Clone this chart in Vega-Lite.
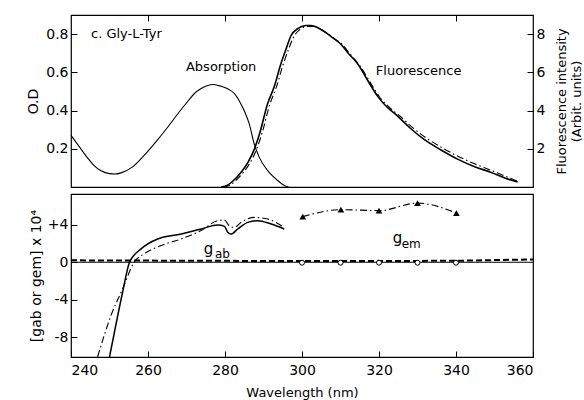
{
  "$schema": "https://vega.github.io/schema/vega-lite/v6.json",
  "padding": {"left": 26, "top": 13, "right": 0, "bottom": 3},
  "background": "white",
  "config": {
    "font": "DejaVu Sans",
    "view": {"stroke": "black", "strokeWidth": 1.2},
    "axis": {"labelFont": "DejaVu Sans", "titleFont": "DejaVu Sans", "labelFontSize": 14, "titleFontSize": 14, "titleFontWeight": "normal", "labelColor": "black", "titleColor": "black", "tickColor": "black", "domain": false, "grid": false, "tickSize": -6, "labelPadding": 9}
  },
  "spacing": 2,
  "vconcat": [
    {
      "width": 462,
      "height": 172,
      "layer": [
        {
          "data": {"values": [
            {"nm": 240, "od": 0.27}, {"nm": 242, "od": 0.215}, {"nm": 244.4, "od": 0.15}, {"nm": 246, "od": 0.112},
            {"nm": 247.8, "od": 0.085}, {"nm": 250, "od": 0.07}, {"nm": 251.5, "od": 0.068}, {"nm": 253, "od": 0.074},
            {"nm": 256, "od": 0.105}, {"nm": 259, "od": 0.165}, {"nm": 262, "od": 0.235}, {"nm": 265, "od": 0.31},
            {"nm": 268, "od": 0.39}, {"nm": 270.4, "od": 0.45}, {"nm": 272, "od": 0.488}, {"nm": 273.8, "od": 0.515},
            {"nm": 275.5, "od": 0.531}, {"nm": 277, "od": 0.536}, {"nm": 279, "od": 0.527}, {"nm": 281, "od": 0.51},
            {"nm": 282.4, "od": 0.49}, {"nm": 284, "od": 0.44}, {"nm": 285.2, "od": 0.39}, {"nm": 286.3, "od": 0.33},
            {"nm": 287.6, "od": 0.225}, {"nm": 288.9, "od": 0.155}, {"nm": 291.1, "od": 0.086}, {"nm": 293.7, "od": 0.034},
            {"nm": 295.4, "od": 0.008}, {"nm": 296.5, "od": 0.0}
          ]},
          "layer": [
            {
              "mark": {"type": "line", "interpolate": "monotone", "color": "black", "strokeWidth": 1.1},
              "encoding": {
                "x": {"field": "nm", "type": "quantitative", "scale": {"domain": [240, 360]},
                  "axis": {"orient": "top", "values": [260, 280, 300, 320, 340], "labels": false, "title": null}},
                "y": {"field": "od", "type": "quantitative", "scale": {"domain": [0, 0.895]},
                  "axis": {"orient": "left", "values": [0.2, 0.4, 0.6, 0.8], "format": ".1f", "title": "O.D", "titlePadding": 5}}
              }
            },
            {
              "data": {"values": [{"nm": 245.2, "od": 0.8, "label": "c. Gly-L-Tyr"}]},
              "mark": {"type": "text", "fontSize": 13, "color": "black", "baseline": "middle", "align": "left"},
              "encoding": {
                "x": {"field": "nm", "type": "quantitative"},
                "y": {"field": "od", "type": "quantitative"},
                "text": {"field": "label"}
              }
            },
            {
              "data": {"values": [{"nm": 279, "od": 0.626, "label": "Absorption"}]},
              "mark": {"type": "text", "fontSize": 13, "color": "black", "baseline": "middle", "align": "center"},
              "encoding": {
                "x": {"field": "nm", "type": "quantitative"},
                "y": {"field": "od", "type": "quantitative"},
                "text": {"field": "label"}
              }
            }
          ]
        },
        {
          "layer": [
            {
              "data": {"values": [
                {"nm": 279, "f": 0}, {"nm": 280.7, "f": 0.1}, {"nm": 282, "f": 0.3}, {"nm": 284.2, "f": 0.77},
                {"nm": 286, "f": 1.3}, {"nm": 287.6, "f": 1.97}, {"nm": 289, "f": 2.8}, {"nm": 291.1, "f": 4.38},
                {"nm": 292.8, "f": 5.26}, {"nm": 294.5, "f": 6.44}, {"nm": 296, "f": 7.3}, {"nm": 297.1, "f": 7.9},
                {"nm": 299, "f": 8.3}, {"nm": 301, "f": 8.45}, {"nm": 302.3, "f": 8.45}, {"nm": 304, "f": 8.35},
                {"nm": 306, "f": 8.1}, {"nm": 308, "f": 7.8}, {"nm": 310.1, "f": 7.47}, {"nm": 312, "f": 7.0},
                {"nm": 314.5, "f": 6.44}, {"nm": 317, "f": 5.6}, {"nm": 319.7, "f": 4.73}, {"nm": 322, "f": 4.2},
                {"nm": 324.9, "f": 3.7}, {"nm": 328, "f": 3.1}, {"nm": 331.7, "f": 2.49}, {"nm": 336, "f": 1.95},
                {"nm": 340.4, "f": 1.46}, {"nm": 345, "f": 1.05}, {"nm": 349, "f": 0.77}, {"nm": 353, "f": 0.45},
                {"nm": 356, "f": 0.26}
              ]},
              "mark": {"type": "line", "interpolate": "monotone", "color": "black", "strokeWidth": 1.6},
              "encoding": {
                "x": {"field": "nm", "type": "quantitative"},
                "y": {"field": "f", "type": "quantitative", "scale": {"domain": [0, 8.8]},
                  "axis": {"orient": "right", "values": [2, 4, 6, 8], "format": "d", "title": ["Fluorescence intensity", "(Arbit. units)"], "titleAngle": 270, "titlePadding": 9, "titleFontSize": 13}}
              }
            },
            {
              "data": {"values": [
                {"nm": 279.5, "f": 0}, {"nm": 281.3, "f": 0.1}, {"nm": 282.6, "f": 0.3}, {"nm": 284.8, "f": 0.77},
                {"nm": 286.6, "f": 1.3}, {"nm": 288.2, "f": 1.97}, {"nm": 289.6, "f": 2.8}, {"nm": 291.6, "f": 4.3},
                {"nm": 293.3, "f": 5.2}, {"nm": 295, "f": 6.35}, {"nm": 296.5, "f": 7.2}, {"nm": 297.7, "f": 7.8},
                {"nm": 299.5, "f": 8.25}, {"nm": 301.5, "f": 8.4}, {"nm": 303, "f": 8.4}, {"nm": 304.5, "f": 8.3},
                {"nm": 306.5, "f": 8.05}, {"nm": 308.5, "f": 7.75}, {"nm": 310.5, "f": 7.45}, {"nm": 312.5, "f": 6.95},
                {"nm": 315, "f": 6.35}, {"nm": 317.5, "f": 5.55}, {"nm": 320, "f": 4.75}, {"nm": 322.5, "f": 4.2},
                {"nm": 325.5, "f": 3.7}, {"nm": 328.5, "f": 3.15}, {"nm": 332, "f": 2.6}, {"nm": 336, "f": 2.1},
                {"nm": 340.4, "f": 1.62}, {"nm": 345, "f": 1.2}, {"nm": 349, "f": 0.88}, {"nm": 353, "f": 0.55},
                {"nm": 356, "f": 0.3}
              ]},
              "mark": {"type": "line", "interpolate": "monotone", "color": "black", "strokeWidth": 1.1, "strokeDash": [7, 3, 1.5, 3]},
              "encoding": {
                "x": {"field": "nm", "type": "quantitative"},
                "y": {"field": "f", "type": "quantitative"}
              }
            },
            {
              "data": {"values": [{"nm": 330.3, "f": 6.08, "label": "Fluorescence"}]},
              "mark": {"type": "text", "fontSize": 13, "color": "black", "baseline": "middle", "align": "center"},
              "encoding": {
                "x": {"field": "nm", "type": "quantitative"},
                "y": {"field": "f", "type": "quantitative"},
                "text": {"field": "label"}
              }
            }
          ]
        }
      ],
      "resolve": {"scale": {"y": "independent"}, "axis": {"y": "independent"}}
    },
    {
      "width": 462,
      "height": 163,
      "encoding": {
        "x": {"field": "nm", "type": "quantitative", "scale": {"domain": [240, 360]},
          "axis": {"orient": "bottom", "values": [240, 260, 280, 300, 320, 340, 360], "format": "d", "labelPadding": 12, "title": "Wavelength (nm)", "titlePadding": 9, "titleFontSize": 13}},
        "y": {"field": "g", "type": "quantitative", "scale": {"domain": [-10.1, 7.27]},
          "axis": {"orient": "left", "values": [4, 0, -4, -8], "labelExpr": "datum.value > 0 ? '+' + datum.value : (datum.value < 0 ? '-' + abs(datum.value) : '0')", "title": "[gab or gem] x 10⁴", "titlePadding": 4}}
      },
      "layer": [
        {
          "data": {"values": [{"nm": 240, "g": 0}, {"nm": 360, "g": 0}]},
          "mark": {"type": "line", "color": "black", "strokeWidth": 1.1}
        },
        {
          "data": {"values": [{"nm": 240, "g": 0.2}, {"nm": 300, "g": 0.12}, {"nm": 340, "g": 0.15}, {"nm": 360, "g": 0.3}]},
          "mark": {"type": "line", "color": "black", "strokeWidth": 2, "strokeDash": [6, 3]}
        },
        {
          "data": {"values": [
            {"nm": 250.0, "g": -10.1}, {"nm": 251.5, "g": -7.0}, {"nm": 253.4, "g": -3.2}, {"nm": 255.2, "g": 0},
            {"nm": 258.2, "g": 1.42}, {"nm": 262.5, "g": 2.48}, {"nm": 268.6, "g": 3.0}, {"nm": 273.8, "g": 3.54},
            {"nm": 278.1, "g": 3.97}, {"nm": 279.8, "g": 3.85}, {"nm": 280.7, "g": 3.2}, {"nm": 281.6, "g": 3.0},
            {"nm": 283.3, "g": 3.54}, {"nm": 285.9, "g": 4.25}, {"nm": 288.5, "g": 4.43}, {"nm": 292, "g": 4.07},
            {"nm": 295.4, "g": 3.54}
          ]},
          "mark": {"type": "line", "interpolate": "monotone", "color": "black", "strokeWidth": 1.5}
        },
        {
          "data": {"values": [
            {"nm": 246.9, "g": -10.1}, {"nm": 250.4, "g": -5.67}, {"nm": 253.4, "g": -2.84}, {"nm": 256.4, "g": 0},
            {"nm": 259, "g": 0.9}, {"nm": 263.4, "g": 1.78}, {"nm": 268.6, "g": 2.48}, {"nm": 273.8, "g": 3.37},
            {"nm": 278.1, "g": 4.43}, {"nm": 279.8, "g": 4.5}, {"nm": 281.1, "g": 3.9}, {"nm": 282.4, "g": 3.7},
            {"nm": 284.2, "g": 4.25}, {"nm": 287.6, "g": 4.78}, {"nm": 291.1, "g": 4.6}, {"nm": 295.4, "g": 3.7}
          ]},
          "mark": {"type": "line", "interpolate": "monotone", "color": "black", "strokeWidth": 1.1, "strokeDash": [7, 3, 1.5, 3]}
        },
        {
          "data": {"values": [
            {"nm": 300.2, "g": 4.86}, {"nm": 310.1, "g": 5.6}, {"nm": 320, "g": 5.5}, {"nm": 330, "g": 6.3}, {"nm": 340.1, "g": 5.24}
          ]},
          "layer": [
            {"mark": {"type": "line", "interpolate": "monotone", "color": "black", "strokeWidth": 1.1, "strokeDash": [7, 3, 1.5, 3]}},
            {"mark": {"type": "point", "shape": "triangle-up", "filled": true, "color": "black", "size": 45, "opacity": 1}}
          ]
        },
        {
          "data": {"values": [
            {"nm": 300, "g": -0.05}, {"nm": 310, "g": -0.05}, {"nm": 320, "g": -0.05}, {"nm": 330, "g": -0.05}, {"nm": 340, "g": -0.05}
          ]},
          "mark": {"type": "point", "shape": "circle", "filled": true, "fill": "white", "stroke": "black", "strokeWidth": 1, "size": 25, "opacity": 1}
        },
        {
          "data": {"values": [
            {"nm": 274.5, "g": 1.45, "label": "g", "sz": "big"},
            {"nm": 277.4, "g": 0.85, "label": "ab", "sz": "small"},
            {"nm": 323.6, "g": 2.55, "label": "g", "sz": "big"},
            {"nm": 325.9, "g": 1.95, "label": "em", "sz": "small"}
          ]},
          "mark": {"type": "text", "color": "black", "baseline": "middle", "align": "left"},
          "encoding": {
            "text": {"field": "label"},
            "size": {"field": "sz", "type": "nominal", "scale": {"domain": ["big", "small"], "range": [15, 12]}, "legend": null}
          }
        }
      ]
    }
  ]
}
